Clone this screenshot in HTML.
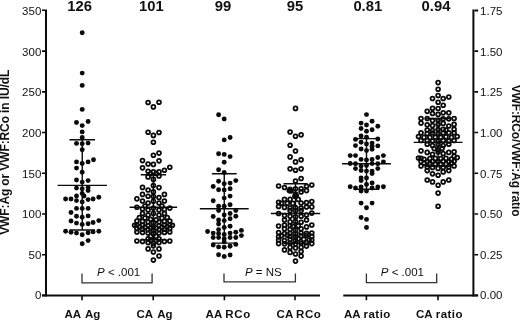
<!DOCTYPE html>
<html><head><meta charset="utf-8">
<style>
html,body{margin:0;padding:0;background:#fff;overflow:hidden;}
svg{display:block;will-change:transform;opacity:.999;}
text{font-family:"Liberation Sans",sans-serif;fill:#111;}
.t{font-size:11.5px;}
.b{font-weight:bold;}
.n{font-weight:bold;font-size:14.8px;text-anchor:middle;}
.x{font-weight:bold;font-size:11.5px;}
</style></head><body>
<svg width="520" height="321" viewBox="0 0 520 321">
<rect width="520" height="321" fill="#fff"/>

<g stroke="#0a0a0a" fill="none">
<path d="M46 9.4V296.4" stroke-width="2"/>
<path d="M45 295.4H320" stroke-width="2"/>
<path d="M343.3 295.4H474.4" stroke-width="2"/>
<path d="M473.4 9.4V296.4" stroke-width="2"/>
<path d="M42 295.40H45M42 254.69H45M42 213.97H45M42 173.26H45M42 132.54H45M42 91.83H45M42 51.11H45M42 10.20H45" stroke-width="1.6"/>
<path d="M474.4 295.40H478.1M474.4 254.69H478.1M474.4 213.97H478.1M474.4 173.26H478.1M474.4 132.54H478.1M474.4 91.83H478.1M474.4 51.11H478.1" stroke-width="1.6"/>
<path d="M474.4 10.45H478.1M474.4 295.4H478.1M42 295.4H45" stroke-width="2"/>
<path d="M82.0 296V300.2M153.2 296V300.2M224.4 296V300.2M295.0 296V300.2M366.4 296V300.2M438.0 296V300.2" stroke-width="1.6"/>
</g>
<text class="t" x="41.3" y="299.40" text-anchor="end">0</text>
<text class="t" x="41.3" y="259.09" text-anchor="end">50</text>
<text class="t" x="41.3" y="218.37" text-anchor="end">100</text>
<text class="t" x="41.3" y="177.66" text-anchor="end">150</text>
<text class="t" x="41.3" y="136.94" text-anchor="end">200</text>
<text class="t" x="41.3" y="96.23" text-anchor="end">250</text>
<text class="t" x="41.3" y="55.51" text-anchor="end">300</text>
<text class="t" x="41.3" y="14.60" text-anchor="end">350</text>
<text class="t" x="480.1" y="299.20">0.00</text>
<text class="t" x="480.1" y="259.09">0.25</text>
<text class="t" x="480.1" y="218.37">0.50</text>
<text class="t" x="480.1" y="177.66">0.75</text>
<text class="t" x="480.1" y="136.94">1.00</text>
<text class="t" x="480.1" y="96.23">1.25</text>
<text class="t" x="480.1" y="55.51">1.50</text>
<text class="t" x="480.1" y="14.60">1.75</text>
<text class="b" font-size="12" transform="translate(8.7,234.8) rotate(-90)" textLength="165.1" lengthAdjust="spacing">VWF:Ag or VWF:RCo in IU/dL</text>
<text class="b" font-size="12" transform="translate(512.1,84.7) rotate(90)" textLength="131.8" lengthAdjust="spacing">VWF:RCo/VWF:Ag ratio</text>
<text class="n" x="79.7" y="10.6">126</text>
<text class="n" x="151.3" y="10.6">101</text>
<text class="n" x="222.9" y="10.6">99</text>
<text class="n" x="295.0" y="10.6">95</text>
<text class="n" x="367.8" y="10.6">0.81</text>
<text class="n" x="436.0" y="10.6">0.94</text>
<text class="x" x="64.40" y="318.1" letter-spacing="0.00">AA</text>
<text class="x" x="85.00" y="318.1" letter-spacing="0.00">Ag</text>
<text class="x" x="136.40" y="318.1" letter-spacing="0.00">CA</text>
<text class="x" x="157.25" y="318.1" letter-spacing="0.00">Ag</text>
<text class="x" x="205.60" y="318.1" letter-spacing="0.00">AA</text>
<text class="x" x="225.35" y="318.1" letter-spacing="0.60">RCo</text>
<text class="x" x="276.60" y="318.1" letter-spacing="0.00">CA</text>
<text class="x" x="296.00" y="318.1" letter-spacing="0.60">RCo</text>
<text class="x" x="344.00" y="318.1" letter-spacing="0.00">AA</text>
<text class="x" x="363.60" y="318.1" letter-spacing="0.45">ratio</text>
<text class="x" x="416.00" y="318.1" letter-spacing="0.00">CA</text>
<text class="x" x="435.80" y="318.1" letter-spacing="0.45">ratio</text>
<g stroke="#333" stroke-width="1.3" fill="none">
<path d="M82.0 273.6V282.8H152.1V273.6"/>
<path d="M224.0 273.6V281.8H295.4V273.6"/>
<path d="M366.4 273.6V282.6H436.7V273.6"/>
</g>
<text class="t" x="97.1" y="275.8"><tspan font-style="italic">P</tspan> &lt; .001</text>
<text class="t" x="244.9" y="275.8"><tspan font-style="italic">P</tspan> = NS</text>
<text class="t" x="380.8" y="275.8"><tspan font-style="italic">P</tspan> &lt; .001</text>
<g stroke="#0a0a0a" stroke-width="1.4" fill="none">
<path d="M82.25 139.70V230.00M57.55 185.40H106.95M69.45 139.70H95.05M69.45 230.00H95.05"/>
</g>
<g fill="#0a0a0a">
<circle cx="82.2" cy="32.8" r="2.45"/>
<circle cx="82.2" cy="73.1" r="2.45"/>
<circle cx="82.2" cy="85.4" r="2.45"/>
<circle cx="82.2" cy="109.4" r="2.45"/>
<circle cx="76.5" cy="122.5" r="2.45"/>
<circle cx="88.1" cy="121.5" r="2.45"/>
<circle cx="82.2" cy="125.6" r="2.45"/>
<circle cx="82.2" cy="131.9" r="2.45"/>
<circle cx="82.2" cy="137.5" r="2.45"/>
<circle cx="76.5" cy="143.4" r="2.45"/>
<circle cx="82.2" cy="143.8" r="2.45"/>
<circle cx="88.1" cy="143.1" r="2.45"/>
<circle cx="82.2" cy="149.8" r="2.45"/>
<circle cx="93.5" cy="159.8" r="2.45"/>
<circle cx="76.5" cy="161.9" r="2.45"/>
<circle cx="88.1" cy="161.9" r="2.45"/>
<circle cx="82.2" cy="163.5" r="2.45"/>
<circle cx="76.5" cy="168.1" r="2.45"/>
<circle cx="82.2" cy="172.2" r="2.45"/>
<circle cx="76.5" cy="180.0" r="2.45"/>
<circle cx="88.1" cy="180.6" r="2.45"/>
<circle cx="82.2" cy="182.1" r="2.45"/>
<circle cx="76.5" cy="188.1" r="2.45"/>
<circle cx="82.2" cy="188.8" r="2.45"/>
<circle cx="88.1" cy="187.5" r="2.45"/>
<circle cx="88.1" cy="190.6" r="2.45"/>
<circle cx="82.2" cy="193.5" r="2.45"/>
<circle cx="84.0" cy="196.0" r="2.45"/>
<circle cx="76.5" cy="196.0" r="2.45"/>
<circle cx="65.6" cy="199.0" r="2.45"/>
<circle cx="71.0" cy="199.0" r="2.45"/>
<circle cx="76.5" cy="200.6" r="2.45"/>
<circle cx="82.2" cy="201.9" r="2.45"/>
<circle cx="88.1" cy="199.6" r="2.45"/>
<circle cx="93.1" cy="199.0" r="2.45"/>
<circle cx="98.8" cy="197.2" r="2.45"/>
<circle cx="76.5" cy="208.4" r="2.45"/>
<circle cx="82.2" cy="208.4" r="2.45"/>
<circle cx="88.1" cy="208.4" r="2.45"/>
<circle cx="71.0" cy="212.5" r="2.45"/>
<circle cx="76.5" cy="216.2" r="2.45"/>
<circle cx="82.2" cy="217.2" r="2.45"/>
<circle cx="88.1" cy="215.9" r="2.45"/>
<circle cx="71.0" cy="221.0" r="2.45"/>
<circle cx="98.8" cy="220.6" r="2.45"/>
<circle cx="93.1" cy="222.5" r="2.45"/>
<circle cx="76.5" cy="223.1" r="2.45"/>
<circle cx="82.2" cy="224.4" r="2.45"/>
<circle cx="88.1" cy="223.8" r="2.45"/>
<circle cx="65.6" cy="231.2" r="2.45"/>
<circle cx="71.0" cy="232.2" r="2.45"/>
<circle cx="76.5" cy="233.1" r="2.45"/>
<circle cx="82.2" cy="234.8" r="2.45"/>
<circle cx="88.1" cy="232.8" r="2.45"/>
<circle cx="93.1" cy="231.9" r="2.45"/>
<circle cx="98.8" cy="231.2" r="2.45"/>
<circle cx="88.1" cy="240.6" r="2.45"/>
<circle cx="82.2" cy="243.8" r="2.45"/>
</g>
<g stroke="#0a0a0a" stroke-width="1.4" fill="none">
<path d="M153.40 174.75V239.80M129.65 207.25H177.15M140.70 174.75H166.10M140.70 239.80H166.10"/>
</g>
<g fill="none" stroke="#0a0a0a" stroke-width="1.75">
<circle cx="148.1" cy="102.5" r="1.95"/>
<circle cx="159.0" cy="102.2" r="1.95"/>
<circle cx="153.4" cy="106.9" r="1.95"/>
<circle cx="148.1" cy="132.2" r="1.95"/>
<circle cx="159.0" cy="132.5" r="1.95"/>
<circle cx="153.4" cy="135.4" r="1.95"/>
<circle cx="153.4" cy="142.2" r="1.95"/>
<circle cx="159.0" cy="153.1" r="1.95"/>
<circle cx="153.4" cy="155.2" r="1.95"/>
<circle cx="142.5" cy="160.6" r="1.95"/>
<circle cx="159.0" cy="160.8" r="1.95"/>
<circle cx="148.1" cy="164.0" r="1.95"/>
<circle cx="153.4" cy="164.4" r="1.95"/>
<circle cx="142.5" cy="167.8" r="1.95"/>
<circle cx="169.8" cy="167.2" r="1.95"/>
<circle cx="164.4" cy="170.2" r="1.95"/>
<circle cx="148.1" cy="171.2" r="1.95"/>
<circle cx="153.4" cy="171.9" r="1.95"/>
<circle cx="159.0" cy="171.9" r="1.95"/>
<circle cx="150.6" cy="173.8" r="1.95"/>
<circle cx="156.2" cy="173.5" r="1.95"/>
<circle cx="148.1" cy="176.9" r="1.95"/>
<circle cx="159.0" cy="176.0" r="1.95"/>
<circle cx="153.4" cy="179.4" r="1.95"/>
<circle cx="153.4" cy="185.6" r="1.95"/>
<circle cx="142.5" cy="187.4" r="1.95"/>
<circle cx="159.0" cy="187.6" r="1.95"/>
<circle cx="148.1" cy="190.0" r="1.95"/>
<circle cx="153.4" cy="191.9" r="1.95"/>
<circle cx="142.5" cy="194.4" r="1.95"/>
<circle cx="164.4" cy="194.4" r="1.95"/>
<circle cx="148.1" cy="196.2" r="1.95"/>
<circle cx="159.0" cy="197.5" r="1.95"/>
<circle cx="153.4" cy="196.5" r="1.95"/>
<circle cx="136.9" cy="198.8" r="1.95"/>
<circle cx="142.5" cy="201.0" r="1.95"/>
<circle cx="164.4" cy="201.0" r="1.95"/>
<circle cx="148.1" cy="203.0" r="1.95"/>
<circle cx="159.0" cy="203.0" r="1.95"/>
<circle cx="153.4" cy="201.2" r="1.95"/>
<circle cx="136.9" cy="207.2" r="1.95"/>
<circle cx="169.8" cy="208.1" r="1.95"/>
<circle cx="142.5" cy="209.0" r="1.95"/>
<circle cx="164.4" cy="209.4" r="1.95"/>
<circle cx="148.1" cy="210.0" r="1.95"/>
<circle cx="159.0" cy="210.0" r="1.95"/>
<circle cx="153.4" cy="208.1" r="1.95"/>
<circle cx="145.0" cy="206.0" r="1.95"/>
<circle cx="161.9" cy="206.0" r="1.95"/>
<circle cx="142.5" cy="213.5" r="1.95"/>
<circle cx="164.4" cy="213.5" r="1.95"/>
<circle cx="148.1" cy="215.0" r="1.95"/>
<circle cx="159.0" cy="215.0" r="1.95"/>
<circle cx="153.4" cy="213.4" r="1.95"/>
<circle cx="139.4" cy="217.5" r="1.95"/>
<circle cx="145.0" cy="218.1" r="1.95"/>
<circle cx="150.6" cy="219.3" r="1.95"/>
<circle cx="156.2" cy="219.9" r="1.95"/>
<circle cx="161.9" cy="218.1" r="1.95"/>
<circle cx="167.2" cy="217.5" r="1.95"/>
<circle cx="136.9" cy="221.0" r="1.95"/>
<circle cx="142.5" cy="221.4" r="1.95"/>
<circle cx="148.1" cy="222.0" r="1.95"/>
<circle cx="153.4" cy="222.8" r="1.95"/>
<circle cx="159.0" cy="222.0" r="1.95"/>
<circle cx="164.4" cy="221.4" r="1.95"/>
<circle cx="169.8" cy="221.0" r="1.95"/>
<circle cx="136.9" cy="224.8" r="1.95"/>
<circle cx="142.5" cy="225.0" r="1.95"/>
<circle cx="148.1" cy="225.6" r="1.95"/>
<circle cx="153.4" cy="226.2" r="1.95"/>
<circle cx="159.0" cy="225.6" r="1.95"/>
<circle cx="164.4" cy="225.0" r="1.95"/>
<circle cx="169.8" cy="224.8" r="1.95"/>
<circle cx="139.4" cy="226.8" r="1.95"/>
<circle cx="145.0" cy="227.2" r="1.95"/>
<circle cx="150.6" cy="228.0" r="1.95"/>
<circle cx="156.2" cy="228.0" r="1.95"/>
<circle cx="161.9" cy="227.2" r="1.95"/>
<circle cx="167.2" cy="226.8" r="1.95"/>
<circle cx="172.4" cy="225.2" r="1.95"/>
<circle cx="134.6" cy="225.2" r="1.95"/>
<circle cx="136.9" cy="228.6" r="1.95"/>
<circle cx="142.5" cy="229.2" r="1.95"/>
<circle cx="148.1" cy="229.8" r="1.95"/>
<circle cx="153.4" cy="230.4" r="1.95"/>
<circle cx="159.0" cy="229.8" r="1.95"/>
<circle cx="164.4" cy="229.2" r="1.95"/>
<circle cx="169.8" cy="228.6" r="1.95"/>
<circle cx="136.9" cy="232.0" r="1.95"/>
<circle cx="142.5" cy="232.4" r="1.95"/>
<circle cx="148.1" cy="233.0" r="1.95"/>
<circle cx="153.4" cy="233.6" r="1.95"/>
<circle cx="159.0" cy="233.0" r="1.95"/>
<circle cx="164.4" cy="232.4" r="1.95"/>
<circle cx="169.8" cy="232.0" r="1.95"/>
<circle cx="150.6" cy="236.4" r="1.95"/>
<circle cx="156.2" cy="236.4" r="1.95"/>
<circle cx="148.1" cy="238.9" r="1.95"/>
<circle cx="159.0" cy="238.9" r="1.95"/>
<circle cx="136.9" cy="241.0" r="1.95"/>
<circle cx="142.5" cy="241.4" r="1.95"/>
<circle cx="148.1" cy="242.6" r="1.95"/>
<circle cx="153.4" cy="243.6" r="1.95"/>
<circle cx="159.0" cy="242.6" r="1.95"/>
<circle cx="164.4" cy="241.4" r="1.95"/>
<circle cx="169.8" cy="241.0" r="1.95"/>
<circle cx="150.6" cy="240.3" r="1.95"/>
<circle cx="156.2" cy="240.8" r="1.95"/>
<circle cx="153.4" cy="245.8" r="1.95"/>
<circle cx="148.1" cy="248.9" r="1.95"/>
<circle cx="159.0" cy="248.9" r="1.95"/>
<circle cx="153.4" cy="252.0" r="1.95"/>
<circle cx="159.0" cy="256.0" r="1.95"/>
<circle cx="153.4" cy="260.1" r="1.95"/>
</g>
<g stroke="#0a0a0a" stroke-width="1.4" fill="none">
<path d="M224.25 173.75V243.10M199.85 208.75H248.65M211.85 173.75H236.65M211.85 243.10H236.65"/>
</g>
<g fill="#0a0a0a">
<circle cx="218.6" cy="114.8" r="2.45"/>
<circle cx="224.2" cy="119.0" r="2.45"/>
<circle cx="230.1" cy="137.5" r="2.45"/>
<circle cx="224.2" cy="139.9" r="2.45"/>
<circle cx="218.6" cy="153.8" r="2.45"/>
<circle cx="224.2" cy="154.4" r="2.45"/>
<circle cx="230.1" cy="156.6" r="2.45"/>
<circle cx="224.2" cy="162.2" r="2.45"/>
<circle cx="218.6" cy="169.8" r="2.45"/>
<circle cx="224.2" cy="172.5" r="2.45"/>
<circle cx="218.6" cy="181.2" r="2.45"/>
<circle cx="235.8" cy="180.6" r="2.45"/>
<circle cx="230.1" cy="183.1" r="2.45"/>
<circle cx="224.2" cy="183.8" r="2.45"/>
<circle cx="213.2" cy="186.5" r="2.45"/>
<circle cx="218.6" cy="189.8" r="2.45"/>
<circle cx="230.1" cy="188.8" r="2.45"/>
<circle cx="224.2" cy="190.0" r="2.45"/>
<circle cx="230.1" cy="196.1" r="2.45"/>
<circle cx="224.2" cy="198.1" r="2.45"/>
<circle cx="213.2" cy="200.8" r="2.45"/>
<circle cx="230.1" cy="204.8" r="2.45"/>
<circle cx="218.6" cy="206.2" r="2.45"/>
<circle cx="224.2" cy="206.2" r="2.45"/>
<circle cx="218.6" cy="210.6" r="2.45"/>
<circle cx="235.8" cy="210.6" r="2.45"/>
<circle cx="230.1" cy="213.5" r="2.45"/>
<circle cx="224.2" cy="215.0" r="2.45"/>
<circle cx="213.2" cy="216.5" r="2.45"/>
<circle cx="235.8" cy="216.2" r="2.45"/>
<circle cx="230.1" cy="218.8" r="2.45"/>
<circle cx="218.6" cy="220.0" r="2.45"/>
<circle cx="224.2" cy="220.6" r="2.45"/>
<circle cx="218.6" cy="224.0" r="2.45"/>
<circle cx="230.1" cy="226.2" r="2.45"/>
<circle cx="224.2" cy="227.5" r="2.45"/>
<circle cx="218.6" cy="229.6" r="2.45"/>
<circle cx="207.6" cy="231.5" r="2.45"/>
<circle cx="241.4" cy="230.4" r="2.45"/>
<circle cx="235.8" cy="232.2" r="2.45"/>
<circle cx="213.2" cy="233.1" r="2.45"/>
<circle cx="230.1" cy="233.1" r="2.45"/>
<circle cx="218.6" cy="233.5" r="2.45"/>
<circle cx="224.2" cy="234.4" r="2.45"/>
<circle cx="241.4" cy="235.6" r="2.45"/>
<circle cx="213.2" cy="237.5" r="2.45"/>
<circle cx="218.6" cy="237.5" r="2.45"/>
<circle cx="230.1" cy="237.5" r="2.45"/>
<circle cx="235.8" cy="237.5" r="2.45"/>
<circle cx="224.2" cy="238.8" r="2.45"/>
<circle cx="224.2" cy="241.9" r="2.45"/>
<circle cx="213.2" cy="245.0" r="2.45"/>
<circle cx="235.8" cy="244.4" r="2.45"/>
<circle cx="218.6" cy="246.9" r="2.45"/>
<circle cx="230.1" cy="246.2" r="2.45"/>
<circle cx="224.2" cy="247.2" r="2.45"/>
<circle cx="218.6" cy="254.8" r="2.45"/>
<circle cx="230.1" cy="255.0" r="2.45"/>
<circle cx="224.2" cy="256.5" r="2.45"/>
</g>
<g stroke="#0a0a0a" stroke-width="1.4" fill="none">
<path d="M295.50 183.75V243.25M270.80 213.50H320.20M283.50 183.75H307.50M283.50 243.25H307.50"/>
</g>
<g fill="none" stroke="#0a0a0a" stroke-width="1.75">
<circle cx="295.5" cy="108.4" r="1.95"/>
<circle cx="290.1" cy="132.0" r="1.95"/>
<circle cx="301.1" cy="134.8" r="1.95"/>
<circle cx="295.5" cy="136.2" r="1.95"/>
<circle cx="290.1" cy="145.2" r="1.95"/>
<circle cx="295.5" cy="151.0" r="1.95"/>
<circle cx="290.1" cy="156.9" r="1.95"/>
<circle cx="301.1" cy="159.8" r="1.95"/>
<circle cx="295.5" cy="161.9" r="1.95"/>
<circle cx="290.1" cy="168.8" r="1.95"/>
<circle cx="301.1" cy="168.8" r="1.95"/>
<circle cx="295.5" cy="170.2" r="1.95"/>
<circle cx="301.1" cy="178.5" r="1.95"/>
<circle cx="295.5" cy="181.0" r="1.95"/>
<circle cx="278.6" cy="186.0" r="1.95"/>
<circle cx="311.8" cy="185.0" r="1.95"/>
<circle cx="284.5" cy="187.5" r="1.95"/>
<circle cx="306.5" cy="186.2" r="1.95"/>
<circle cx="290.1" cy="189.2" r="1.95"/>
<circle cx="289.3" cy="190.6" r="1.95"/>
<circle cx="291.0" cy="190.8" r="1.95"/>
<circle cx="295.5" cy="188.8" r="1.95"/>
<circle cx="301.1" cy="188.8" r="1.95"/>
<circle cx="306.5" cy="190.6" r="1.95"/>
<circle cx="301.1" cy="191.9" r="1.95"/>
<circle cx="295.5" cy="194.2" r="1.95"/>
<circle cx="296.2" cy="195.8" r="1.95"/>
<circle cx="294.9" cy="196.2" r="1.95"/>
<circle cx="284.5" cy="199.4" r="1.95"/>
<circle cx="290.1" cy="199.4" r="1.95"/>
<circle cx="298.2" cy="199.4" r="1.95"/>
<circle cx="278.6" cy="202.2" r="1.95"/>
<circle cx="281.5" cy="203.2" r="1.95"/>
<circle cx="287.3" cy="203.2" r="1.95"/>
<circle cx="292.8" cy="203.4" r="1.95"/>
<circle cx="301.1" cy="203.0" r="1.95"/>
<circle cx="306.5" cy="202.5" r="1.95"/>
<circle cx="311.8" cy="201.5" r="1.95"/>
<circle cx="278.6" cy="206.5" r="1.95"/>
<circle cx="284.5" cy="207.4" r="1.95"/>
<circle cx="290.1" cy="208.0" r="1.95"/>
<circle cx="295.5" cy="207.6" r="1.95"/>
<circle cx="301.1" cy="208.0" r="1.95"/>
<circle cx="306.5" cy="207.0" r="1.95"/>
<circle cx="311.8" cy="206.9" r="1.95"/>
<circle cx="290.1" cy="210.6" r="1.95"/>
<circle cx="295.5" cy="210.8" r="1.95"/>
<circle cx="301.1" cy="210.6" r="1.95"/>
<circle cx="278.6" cy="213.5" r="1.95"/>
<circle cx="311.8" cy="213.1" r="1.95"/>
<circle cx="284.5" cy="215.6" r="1.95"/>
<circle cx="290.1" cy="216.2" r="1.95"/>
<circle cx="295.5" cy="216.8" r="1.95"/>
<circle cx="301.1" cy="216.2" r="1.95"/>
<circle cx="306.5" cy="215.0" r="1.95"/>
<circle cx="284.5" cy="220.0" r="1.95"/>
<circle cx="306.5" cy="220.0" r="1.95"/>
<circle cx="290.1" cy="221.9" r="1.95"/>
<circle cx="301.1" cy="222.2" r="1.95"/>
<circle cx="295.5" cy="221.4" r="1.95"/>
<circle cx="278.6" cy="226.0" r="1.95"/>
<circle cx="311.8" cy="225.0" r="1.95"/>
<circle cx="284.5" cy="225.0" r="1.95"/>
<circle cx="306.5" cy="226.9" r="1.95"/>
<circle cx="290.1" cy="225.6" r="1.95"/>
<circle cx="292.8" cy="226.4" r="1.95"/>
<circle cx="298.3" cy="225.8" r="1.95"/>
<circle cx="284.5" cy="228.8" r="1.95"/>
<circle cx="290.1" cy="229.4" r="1.95"/>
<circle cx="295.5" cy="230.0" r="1.95"/>
<circle cx="301.1" cy="228.8" r="1.95"/>
<circle cx="278.6" cy="232.5" r="1.95"/>
<circle cx="311.8" cy="233.0" r="1.95"/>
<circle cx="284.5" cy="233.6" r="1.95"/>
<circle cx="306.5" cy="233.4" r="1.95"/>
<circle cx="290.1" cy="233.2" r="1.95"/>
<circle cx="301.1" cy="233.0" r="1.95"/>
<circle cx="295.5" cy="233.8" r="1.95"/>
<circle cx="278.6" cy="236.8" r="1.95"/>
<circle cx="281.5" cy="235.8" r="1.95"/>
<circle cx="287.3" cy="235.2" r="1.95"/>
<circle cx="290.1" cy="236.4" r="1.95"/>
<circle cx="295.5" cy="237.0" r="1.95"/>
<circle cx="301.1" cy="235.8" r="1.95"/>
<circle cx="306.5" cy="235.2" r="1.95"/>
<circle cx="311.8" cy="236.4" r="1.95"/>
<circle cx="278.6" cy="240.0" r="1.95"/>
<circle cx="284.5" cy="240.6" r="1.95"/>
<circle cx="290.1" cy="239.4" r="1.95"/>
<circle cx="295.5" cy="240.4" r="1.95"/>
<circle cx="298.3" cy="238.8" r="1.95"/>
<circle cx="303.8" cy="239.4" r="1.95"/>
<circle cx="309.1" cy="240.0" r="1.95"/>
<circle cx="311.8" cy="240.0" r="1.95"/>
<circle cx="278.6" cy="243.6" r="1.95"/>
<circle cx="284.5" cy="243.8" r="1.95"/>
<circle cx="290.1" cy="243.2" r="1.95"/>
<circle cx="295.5" cy="243.8" r="1.95"/>
<circle cx="301.1" cy="243.2" r="1.95"/>
<circle cx="306.5" cy="242.6" r="1.95"/>
<circle cx="311.8" cy="243.6" r="1.95"/>
<circle cx="306.5" cy="246.1" r="1.95"/>
<circle cx="284.5" cy="249.9" r="1.95"/>
<circle cx="290.1" cy="247.4" r="1.95"/>
<circle cx="295.5" cy="248.0" r="1.95"/>
<circle cx="301.1" cy="247.4" r="1.95"/>
<circle cx="290.1" cy="252.4" r="1.95"/>
<circle cx="301.1" cy="251.5" r="1.95"/>
<circle cx="295.5" cy="254.0" r="1.95"/>
<circle cx="301.1" cy="256.1" r="1.95"/>
<circle cx="295.5" cy="261.1" r="1.95"/>
</g>
<g stroke="#0a0a0a" stroke-width="1.4" fill="none">
<path d="M366.50 138.60V189.25M342.10 163.70H390.90M353.70 138.60H379.30M353.70 189.25H379.30"/>
</g>
<g fill="#0a0a0a">
<circle cx="366.5" cy="114.6" r="2.45"/>
<circle cx="372.1" cy="121.2" r="2.45"/>
<circle cx="361.1" cy="123.1" r="2.45"/>
<circle cx="366.5" cy="125.0" r="2.45"/>
<circle cx="377.8" cy="126.2" r="2.45"/>
<circle cx="361.1" cy="128.5" r="2.45"/>
<circle cx="372.1" cy="129.8" r="2.45"/>
<circle cx="366.5" cy="131.2" r="2.45"/>
<circle cx="361.1" cy="136.0" r="2.45"/>
<circle cx="366.5" cy="137.2" r="2.45"/>
<circle cx="355.5" cy="139.4" r="2.45"/>
<circle cx="377.8" cy="139.0" r="2.45"/>
<circle cx="361.1" cy="142.2" r="2.45"/>
<circle cx="372.1" cy="143.1" r="2.45"/>
<circle cx="366.5" cy="144.0" r="2.45"/>
<circle cx="355.5" cy="145.6" r="2.45"/>
<circle cx="377.8" cy="145.9" r="2.45"/>
<circle cx="372.1" cy="146.2" r="2.45"/>
<circle cx="361.1" cy="149.0" r="2.45"/>
<circle cx="372.1" cy="149.3" r="2.45"/>
<circle cx="366.5" cy="150.6" r="2.45"/>
<circle cx="350.2" cy="155.6" r="2.45"/>
<circle cx="355.5" cy="155.6" r="2.45"/>
<circle cx="383.4" cy="155.6" r="2.45"/>
<circle cx="377.8" cy="157.5" r="2.45"/>
<circle cx="361.1" cy="159.4" r="2.45"/>
<circle cx="372.1" cy="159.4" r="2.45"/>
<circle cx="366.5" cy="160.0" r="2.45"/>
<circle cx="383.4" cy="161.9" r="2.45"/>
<circle cx="350.2" cy="163.5" r="2.45"/>
<circle cx="355.5" cy="163.8" r="2.45"/>
<circle cx="372.1" cy="163.6" r="2.45"/>
<circle cx="377.8" cy="163.8" r="2.45"/>
<circle cx="361.1" cy="166.1" r="2.45"/>
<circle cx="366.5" cy="165.5" r="2.45"/>
<circle cx="355.5" cy="168.6" r="2.45"/>
<circle cx="377.8" cy="168.6" r="2.45"/>
<circle cx="361.1" cy="170.5" r="2.45"/>
<circle cx="366.5" cy="171.1" r="2.45"/>
<circle cx="372.1" cy="171.1" r="2.45"/>
<circle cx="372.1" cy="173.6" r="2.45"/>
<circle cx="361.1" cy="178.0" r="2.45"/>
<circle cx="366.5" cy="178.0" r="2.45"/>
<circle cx="361.1" cy="180.5" r="2.45"/>
<circle cx="372.1" cy="183.0" r="2.45"/>
<circle cx="366.5" cy="184.5" r="2.45"/>
<circle cx="350.2" cy="186.8" r="2.45"/>
<circle cx="383.4" cy="186.8" r="2.45"/>
<circle cx="355.5" cy="188.0" r="2.45"/>
<circle cx="377.8" cy="187.0" r="2.45"/>
<circle cx="361.1" cy="187.0" r="2.45"/>
<circle cx="372.1" cy="188.0" r="2.45"/>
<circle cx="361.1" cy="191.1" r="2.45"/>
<circle cx="366.5" cy="191.1" r="2.45"/>
<circle cx="361.1" cy="203.1" r="2.45"/>
<circle cx="372.1" cy="203.1" r="2.45"/>
<circle cx="366.5" cy="207.8" r="2.45"/>
<circle cx="361.1" cy="217.5" r="2.45"/>
<circle cx="366.5" cy="219.4" r="2.45"/>
<circle cx="366.5" cy="227.5" r="2.45"/>
</g>
<g stroke="#0a0a0a" stroke-width="1.4" fill="none">
<path d="M438.10 118.50V166.30M413.70 142.40H462.50M425.10 118.50H451.10M425.10 166.30H451.10"/>
</g>
<g fill="none" stroke="#0a0a0a" stroke-width="1.75">
<circle cx="438.1" cy="82.6" r="1.95"/>
<circle cx="438.1" cy="89.2" r="1.95"/>
<circle cx="438.1" cy="95.5" r="1.95"/>
<circle cx="448.8" cy="97.0" r="1.95"/>
<circle cx="432.5" cy="98.5" r="1.95"/>
<circle cx="443.2" cy="98.5" r="1.95"/>
<circle cx="438.1" cy="102.2" r="1.95"/>
<circle cx="443.2" cy="105.2" r="1.95"/>
<circle cx="432.5" cy="108.2" r="1.95"/>
<circle cx="438.1" cy="108.5" r="1.95"/>
<circle cx="427.2" cy="111.3" r="1.95"/>
<circle cx="443.2" cy="112.8" r="1.95"/>
<circle cx="448.8" cy="112.8" r="1.95"/>
<circle cx="432.5" cy="113.5" r="1.95"/>
<circle cx="438.1" cy="114.4" r="1.95"/>
<circle cx="421.0" cy="118.5" r="1.95"/>
<circle cx="454.1" cy="118.5" r="1.95"/>
<circle cx="427.2" cy="118.5" r="1.95"/>
<circle cx="443.2" cy="118.8" r="1.95"/>
<circle cx="448.8" cy="118.8" r="1.95"/>
<circle cx="432.5" cy="120.6" r="1.95"/>
<circle cx="438.1" cy="120.2" r="1.95"/>
<circle cx="421.0" cy="123.1" r="1.95"/>
<circle cx="454.1" cy="124.4" r="1.95"/>
<circle cx="427.2" cy="124.8" r="1.95"/>
<circle cx="448.8" cy="126.0" r="1.95"/>
<circle cx="443.2" cy="123.4" r="1.95"/>
<circle cx="432.5" cy="125.6" r="1.95"/>
<circle cx="438.1" cy="124.6" r="1.95"/>
<circle cx="427.2" cy="130.0" r="1.95"/>
<circle cx="432.5" cy="130.6" r="1.95"/>
<circle cx="443.2" cy="129.4" r="1.95"/>
<circle cx="446.0" cy="130.0" r="1.95"/>
<circle cx="454.1" cy="129.4" r="1.95"/>
<circle cx="438.1" cy="129.6" r="1.95"/>
<circle cx="421.0" cy="132.8" r="1.95"/>
<circle cx="454.1" cy="132.8" r="1.95"/>
<circle cx="448.8" cy="132.8" r="1.95"/>
<circle cx="427.2" cy="133.6" r="1.95"/>
<circle cx="432.5" cy="133.0" r="1.95"/>
<circle cx="443.2" cy="133.0" r="1.95"/>
<circle cx="438.1" cy="133.6" r="1.95"/>
<circle cx="418.5" cy="136.5" r="1.95"/>
<circle cx="457.2" cy="136.5" r="1.95"/>
<circle cx="424.0" cy="137.4" r="1.95"/>
<circle cx="429.9" cy="137.4" r="1.95"/>
<circle cx="446.0" cy="136.8" r="1.95"/>
<circle cx="451.5" cy="137.4" r="1.95"/>
<circle cx="435.3" cy="137.2" r="1.95"/>
<circle cx="440.7" cy="137.2" r="1.95"/>
<circle cx="421.0" cy="140.5" r="1.95"/>
<circle cx="427.2" cy="140.5" r="1.95"/>
<circle cx="432.5" cy="141.0" r="1.95"/>
<circle cx="443.2" cy="140.5" r="1.95"/>
<circle cx="448.8" cy="141.0" r="1.95"/>
<circle cx="454.1" cy="140.5" r="1.95"/>
<circle cx="438.1" cy="140.8" r="1.95"/>
<circle cx="427.2" cy="144.2" r="1.95"/>
<circle cx="432.5" cy="145.5" r="1.95"/>
<circle cx="438.1" cy="144.2" r="1.95"/>
<circle cx="443.2" cy="145.5" r="1.95"/>
<circle cx="448.8" cy="144.2" r="1.95"/>
<circle cx="434.2" cy="148.6" r="1.95"/>
<circle cx="438.1" cy="149.8" r="1.95"/>
<circle cx="442.1" cy="148.4" r="1.95"/>
<circle cx="421.0" cy="150.8" r="1.95"/>
<circle cx="427.2" cy="152.4" r="1.95"/>
<circle cx="432.5" cy="154.2" r="1.95"/>
<circle cx="454.1" cy="151.8" r="1.95"/>
<circle cx="448.8" cy="152.4" r="1.95"/>
<circle cx="443.2" cy="153.6" r="1.95"/>
<circle cx="438.1" cy="152.0" r="1.95"/>
<circle cx="418.5" cy="158.0" r="1.95"/>
<circle cx="421.0" cy="158.2" r="1.95"/>
<circle cx="424.0" cy="159.2" r="1.95"/>
<circle cx="429.9" cy="158.6" r="1.95"/>
<circle cx="435.3" cy="158.4" r="1.95"/>
<circle cx="440.7" cy="158.6" r="1.95"/>
<circle cx="446.0" cy="158.4" r="1.95"/>
<circle cx="451.5" cy="159.0" r="1.95"/>
<circle cx="457.2" cy="157.6" r="1.95"/>
<circle cx="454.1" cy="156.2" r="1.95"/>
<circle cx="421.0" cy="161.6" r="1.95"/>
<circle cx="427.2" cy="161.8" r="1.95"/>
<circle cx="432.5" cy="161.4" r="1.95"/>
<circle cx="438.1" cy="161.8" r="1.95"/>
<circle cx="443.2" cy="161.4" r="1.95"/>
<circle cx="448.8" cy="161.8" r="1.95"/>
<circle cx="454.1" cy="161.2" r="1.95"/>
<circle cx="424.0" cy="163.1" r="1.95"/>
<circle cx="429.9" cy="163.4" r="1.95"/>
<circle cx="446.0" cy="163.8" r="1.95"/>
<circle cx="451.5" cy="163.1" r="1.95"/>
<circle cx="435.3" cy="164.0" r="1.95"/>
<circle cx="440.7" cy="164.0" r="1.95"/>
<circle cx="421.0" cy="166.0" r="1.95"/>
<circle cx="454.1" cy="166.0" r="1.95"/>
<circle cx="427.2" cy="166.9" r="1.95"/>
<circle cx="432.5" cy="167.5" r="1.95"/>
<circle cx="438.1" cy="168.4" r="1.95"/>
<circle cx="443.2" cy="167.5" r="1.95"/>
<circle cx="448.8" cy="166.9" r="1.95"/>
<circle cx="427.2" cy="170.6" r="1.95"/>
<circle cx="448.8" cy="170.6" r="1.95"/>
<circle cx="443.2" cy="171.9" r="1.95"/>
<circle cx="432.5" cy="173.8" r="1.95"/>
<circle cx="438.1" cy="175.2" r="1.95"/>
<circle cx="427.2" cy="180.0" r="1.95"/>
<circle cx="448.8" cy="180.0" r="1.95"/>
<circle cx="432.5" cy="181.9" r="1.95"/>
<circle cx="443.2" cy="181.9" r="1.95"/>
<circle cx="438.1" cy="185.2" r="1.95"/>
<circle cx="438.1" cy="193.1" r="1.95"/>
<circle cx="438.1" cy="206.2" r="1.95"/>
</g>
</svg>
</body></html>
